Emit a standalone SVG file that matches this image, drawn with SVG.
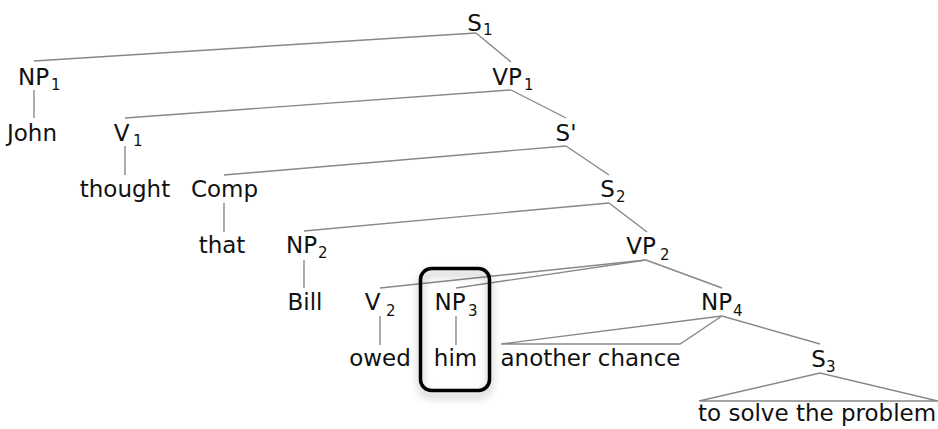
<svg xmlns="http://www.w3.org/2000/svg" width="938" height="429" viewBox="0 0 938 429">
<style>
.lbl{font-family:"DejaVu Sans","Liberation Sans",sans-serif;font-size:23px;fill:#111;text-anchor:middle}
.w{font-family:"DejaVu Sans","Liberation Sans",sans-serif;font-size:23px;fill:#111}
.sub{font-family:"DejaVu Sans","Liberation Sans",sans-serif;font-size:15px;fill:#111}
.e{stroke:#888;stroke-width:1.4;fill:none}
</style>
<defs>
<filter id="sh" x="-30%" y="-30%" width="160%" height="160%">
<feDropShadow dx="0" dy="5" stdDeviation="4" flood-color="#000" flood-opacity="0.3"/>
</filter>
</defs>
<rect width="938" height="429" fill="#fff"/>
<g id="connectors">
<line class="e" x1="476" y1="33" x2="34" y2="61"/>
<line class="e" x1="476" y1="33" x2="511" y2="62"/>
<line class="e" x1="511" y1="90" x2="125" y2="118"/>
<line class="e" x1="511" y1="90" x2="566" y2="118"/>
<line class="e" x1="566" y1="146" x2="224" y2="175"/>
<line class="e" x1="566" y1="146" x2="609" y2="175"/>
<line class="e" x1="609" y1="203" x2="304" y2="231"/>
<line class="e" x1="609" y1="203" x2="647" y2="232"/>
<line class="e" x1="646" y1="260" x2="380" y2="288"/>
<line class="e" x1="646" y1="260" x2="456" y2="288"/>
<line class="e" x1="646" y1="260" x2="722" y2="288"/>
<polygon class="e" points="722,316 501,344 680,344"/>
<line class="e" x1="722" y1="316" x2="820" y2="344"/>
<polygon class="e" points="820,373 699,401 938,401"/>
<line class="e" x1="34" y1="90" x2="34" y2="118"/>
<line class="e" x1="125" y1="146" x2="125" y2="175"/>
<line class="e" x1="224" y1="203" x2="224" y2="232"/>
<line class="e" x1="304" y1="260" x2="304" y2="288"/>
<line class="e" x1="380" y1="316" x2="380" y2="345"/>
<line class="e" x1="456" y1="316" x2="456" y2="345"/>
</g>
<g id="S1"><text class="lbl" x="474.5" y="31">S</text><text class="sub" x="483" y="35">1</text></g>
<g id="NP1"><text class="lbl" x="33.5" y="85">NP</text><text class="sub" x="51" y="90">1</text></g>
<g id="John"><text class="lbl" x="32" y="141">John</text></g>
<g id="VP1"><text class="lbl" x="507" y="85">VP</text><text class="sub" x="524" y="90">1</text></g>
<g id="V1"><text class="lbl" x="121.5" y="141">V</text><text class="sub" x="133" y="146">1</text></g>
<g id="Sbar"><text class="lbl" x="566" y="141">S'</text></g>
<g id="thought"><text class="lbl" x="125" y="197">thought</text></g>
<g id="Comp"><text class="lbl" x="224.5" y="197">Comp</text></g>
<g id="S2"><text class="lbl" x="607.5" y="197">S</text><text class="sub" x="616" y="202">2</text></g>
<g id="that"><text class="lbl" x="222" y="253">that</text></g>
<g id="NP2"><text class="lbl" x="301.5" y="253">NP</text><text class="sub" x="318" y="258">2</text></g>
<g id="VP2"><text class="lbl" x="641" y="254">VP</text><text class="sub" x="660" y="260">2</text></g>
<g id="Bill"><text class="lbl" x="305" y="310">Bill</text></g>
<g id="V2"><text class="lbl" x="372.5" y="310">V</text><text class="sub" x="386" y="316">2</text></g>
<g id="NP3"><text class="lbl" x="450" y="310">NP</text><text class="sub" x="468" y="316">3</text></g>
<g id="NP4"><text class="lbl" x="716.5" y="310">NP</text><text class="sub" x="733" y="316">4</text></g>
<g id="owed"><text class="lbl" x="380" y="366">owed</text></g>
<g id="him"><text class="lbl" x="455.5" y="366">him</text></g>
<g id="another-chance"><text class="lbl" x="590.5" y="366">another chance</text></g>
<g id="S3"><text class="lbl" x="818.5" y="367">S</text><text class="sub" x="826" y="372">3</text></g>
<g id="to-solve"><text class="w" x="698" y="421">to solve the problem</text></g>
<g id="highlight"><rect x="420.5" y="268.5" width="69" height="122" rx="11" ry="11" fill="none" stroke="#000" stroke-width="3.5" filter="url(#sh)"/></g>
</svg>
